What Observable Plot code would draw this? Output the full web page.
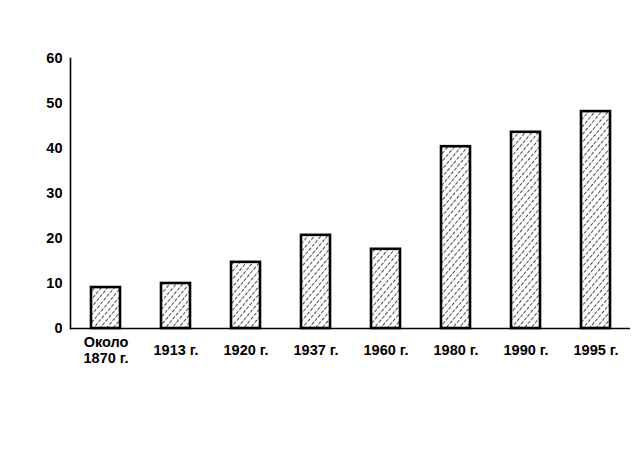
<!DOCTYPE html>
<html>
<head>
<meta charset="utf-8">
<script src="https://cdn.jsdelivr.net/npm/d3@7"></script>
<script src="https://cdn.jsdelivr.net/npm/@observablehq/plot@0.6"></script>
<style>
  html, body { margin: 0; padding: 0; background: #fff; }
  svg { display: block; }
</style>
</head>
<body>
<div id="chart"></div>
<script>
const categories = ["Около\n1870 г.", "1913 г.", "1920 г.", "1937 г.", "1960 г.", "1980 г.", "1990 г.", "1995 г."];
const values = [9.1, 10, 14.7, 20.7, 17.6, 40.4, 43.6, 48.2];
const yTicks = [0, 10, 20, 30, 40, 50, 60];

const data = categories.map((c, i) => ({cat: c, value: values[i]}));
const font = "Liberation Sans, Arial, sans-serif";

const chart = Plot.plot({
  width: 641,
  height: 453,
  marginLeft: 70,
  marginRight: 11,
  marginTop: 58,
  marginBottom: 125,
  style: {fontFamily: font, fontSize: "14.5px", fontWeight: "bold", background: "#fff", color: "#000"},
  x: {domain: categories, paddingInner: 0.59, paddingOuter: 0.262, axis: null},
  y: {domain: [0, 60]},
  marks: [
    Plot.barY(data, {x: "cat", y: "value", fill: "url(#hatch)", stroke: "#000", strokeWidth: 2.6}),
    Plot.frame({anchor: "left", stroke: "#000", strokeWidth: 1.6}),
    Plot.ruleY([0], {stroke: "#000", strokeWidth: 1.6}),
    Plot.axisY({ticks: yTicks, tickSize: 4, tickPadding: 4, label: null, fontSize: 14.5, fill: "#000", stroke: null}),
    Plot.text(data, {x: "cat", text: "cat", frameAnchor: "bottom", dy: 21, lineAnchor: "middle", fontSize: 14.5, fill: "#000", lineHeight: 1.1})
  ]
});

const svg = d3.select(chart);
const defs = svg.insert("defs", ":first-child");
const pat = defs.append("pattern")
  .attr("id", "hatch")
  .attr("patternUnits", "userSpaceOnUse")
  .attr("width", 5)
  .attr("height", 5)
  .attr("patternTransform", "rotate(40)");
pat.append("rect").attr("width", 5).attr("height", 5).attr("fill", "#fff");
pat.append("line")
  .attr("x1", 2.5).attr("y1", 0).attr("x2", 2.5).attr("y2", 5)
  .attr("stroke", "#333")
  .attr("stroke-width", 0.9)
  .attr("stroke-dasharray", "3.5 1.5");

document.getElementById("chart").appendChild(chart);
</script>
</body>
</html>
